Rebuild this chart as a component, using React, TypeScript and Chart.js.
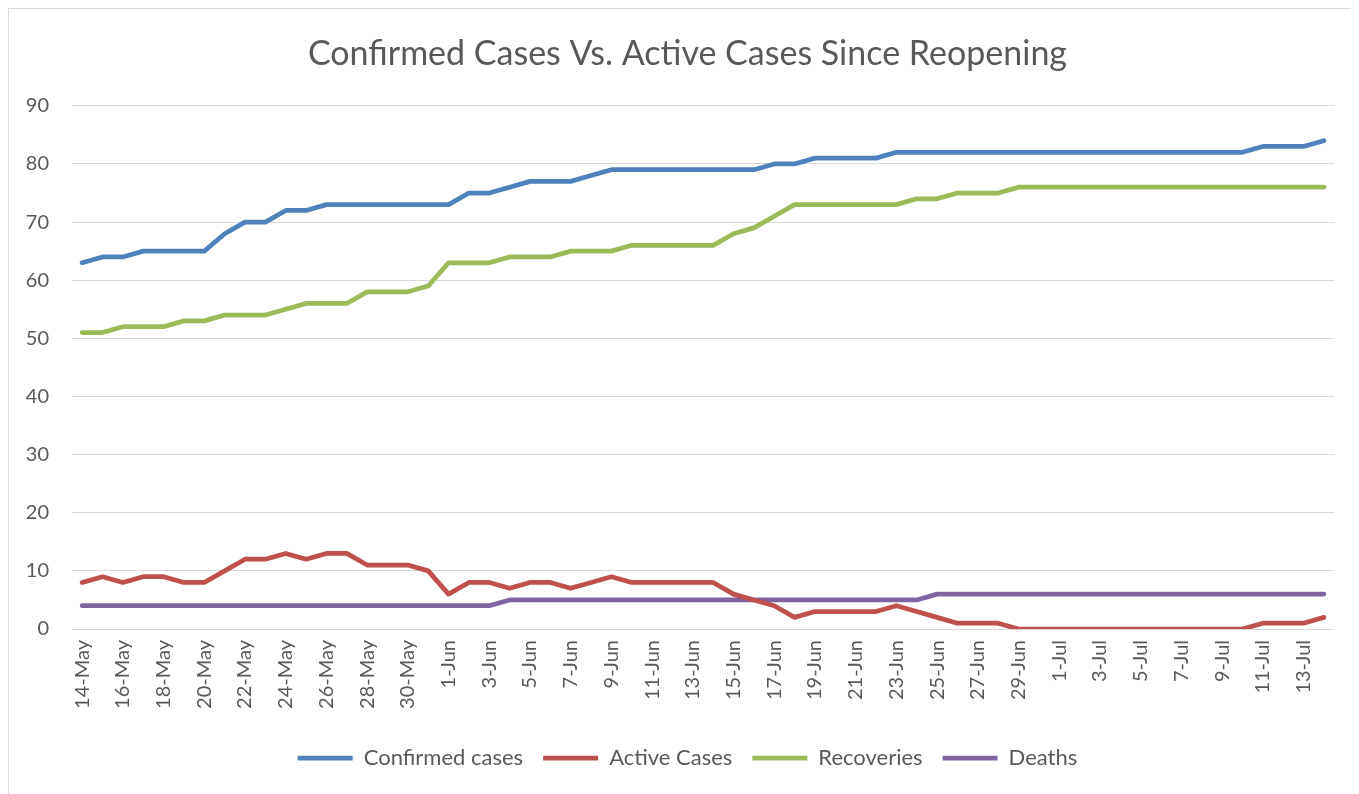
import React, { useEffect, useRef } from "react";
import { Chart, registerables } from "chart.js";

Chart.register(...registerables);

const dateLabels: string[] = [
  "14-May", "15-May", "16-May", "17-May", "18-May", "19-May", "20-May", "21-May", "22-May", "23-May",
  "24-May", "25-May", "26-May", "27-May", "28-May", "29-May", "30-May", "31-May",
  "1-Jun", "2-Jun", "3-Jun", "4-Jun", "5-Jun", "6-Jun", "7-Jun", "8-Jun", "9-Jun", "10-Jun",
  "11-Jun", "12-Jun", "13-Jun", "14-Jun", "15-Jun", "16-Jun", "17-Jun", "18-Jun", "19-Jun", "20-Jun",
  "21-Jun", "22-Jun", "23-Jun", "24-Jun", "25-Jun", "26-Jun", "27-Jun", "28-Jun", "29-Jun", "30-Jun",
  "1-Jul", "2-Jul", "3-Jul", "4-Jul", "5-Jul", "6-Jul", "7-Jul", "8-Jul", "9-Jul", "10-Jul",
  "11-Jul", "12-Jul", "13-Jul", "14-Jul",
];

const confirmedCases: number[] = [
  63, 64, 64, 65, 65, 65, 65, 68, 70, 70, 72, 72, 73, 73, 73, 73, 73, 73,
  73, 75, 75, 76, 77, 77, 77, 78, 79, 79, 79, 79, 79, 79, 79, 79, 80, 80, 81, 81, 81, 81,
  82, 82, 82, 82, 82, 82, 82, 82,
  82, 82, 82, 82, 82, 82, 82, 82, 82, 82, 83, 83, 83, 84,
];

const activeCases: number[] = [
  8, 9, 8, 9, 9, 8, 8, 10, 12, 12, 13, 12, 13, 13, 11, 11, 11, 10,
  6, 8, 8, 7, 8, 8, 7, 8, 9, 8, 8, 8, 8, 8, 6, 5, 4, 2, 3, 3, 3, 3,
  4, 3, 2, 1, 1, 1, 0, 0,
  0, 0, 0, 0, 0, 0, 0, 0, 0, 0, 1, 1, 1, 2,
];

const recoveries: number[] = [
  51, 51, 52, 52, 52, 53, 53, 54, 54, 54, 55, 56, 56, 56, 58, 58, 58, 59,
  63, 63, 63, 64, 64, 64, 65, 65, 65, 66, 66, 66, 66, 66, 68, 69, 71, 73, 73, 73, 73, 73,
  73, 74, 74, 75, 75, 75, 76, 76,
  76, 76, 76, 76, 76, 76, 76, 76, 76, 76, 76, 76, 76, 76,
];

const deaths: number[] = [
  4, 4, 4, 4, 4, 4, 4, 4, 4, 4, 4, 4, 4, 4, 4, 4, 4, 4,
  4, 4, 4, 5, 5, 5, 5, 5, 5, 5, 5, 5, 5, 5, 5, 5, 5, 5, 5, 5, 5, 5,
  5, 5, 6, 6, 6, 6, 6, 6,
  6, 6, 6, 6, 6, 6, 6, 6, 6, 6, 6, 6, 6, 6,
];

const seriesNames: string[] = ["Confirmed cases", "Active Cases", "Recoveries", "Deaths"];
const seriesColors: string[] = ["#4F81BD", "#C0504D", "#9BBB59", "#8064A2"];
const titleText = "Confirmed Cases Vs. Active Cases Since Reopening";

const FONT = "Lato, 'Open Sans', sans-serif";
const TEXT_COLOR = "#595959";

// Centre title and legend on the whole chart frame rather than the padded box.
const centerShiftPlugin = {
  id: "centerShift",
  afterLayout(chart: any) {
    const dx = 14.5;
    const t = chart.titleBlock;
    if (t) {
      t.left += dx;
      t.right += dx;
    }
    const l = chart.legend;
    if (l) {
      l.left += dx;
      l.right += dx;
    }
  },
};

export default function App() {
  const canvasRef = useRef<HTMLCanvasElement | null>(null);

  useEffect(() => {
    document.body.style.margin = "8px";
    const canvas = canvasRef.current;
    if (!canvas) return;
    const seriesData = [confirmedCases, activeCases, recoveries, deaths];
    const chart = new Chart(canvas, {
      type: "line",
      data: {
        labels: dateLabels,
        datasets: seriesNames.map((name, i) => ({
          label: name,
          data: seriesData[i],
          borderColor: seriesColors[i],
          backgroundColor: seriesColors[i],
          borderWidth: 4.75,
          borderCapStyle: "round" as const,
          borderJoinStyle: "round" as const,
          pointRadius: 0,
          pointHoverRadius: 0,
          pointStyle: "line" as const,
          tension: 0,
          fill: false,
        })),
      },
      plugins: [centerShiftPlugin],
      options: {
        animation: false,
        responsive: false,
        maintainAspectRatio: false,
        layout: { padding: { left: 0, right: 22, top: 0, bottom: 20 } },
        plugins: {
          title: {
            display: true,
            text: titleText,
            color: TEXT_COLOR,
            font: { family: FONT, size: 34, weight: "normal" as const },
            padding: { top: 25, bottom: 31 },
          },
          legend: {
            position: "bottom",
            labels: {
              usePointStyle: true,
              pointStyle: "line",
              pointStyleWidth: 55,
              color: TEXT_COLOR,
              font: { family: FONT, size: 22 },
              padding: 20,
            },
          },
          tooltip: { enabled: false },
        },
        scales: {
          x: {
            offset: true,
            grid: { display: false, drawTicks: false },
            border: { display: false },
            afterFit: (scale: any) => {
              scale.height = 98;
            },
            ticks: {
              autoSkip: false,
              maxRotation: 90,
              minRotation: 90,
              padding: 11,
              color: TEXT_COLOR,
              font: { family: FONT, size: 20 },
              callback: function (this: any, _v: any, index: number) {
                return index % 2 === 0 ? dateLabels[index] : "";
              },
            },
          },
          y: {
            min: 0,
            max: 90,
            grid: { color: "#d9d9d9", lineWidth: 1, drawTicks: false },
            border: { display: false },
            afterFit: (scale: any) => {
              scale.width = 63;
            },
            ticks: {
              stepSize: 10,
              padding: 23,
              color: TEXT_COLOR,
              font: { family: FONT, size: 20 },
            },
          },
        },
      },
    });
    return () => chart.destroy();
  }, []);

  return (
    <div
      style={{
        width: 1400,
        height: 820,
        border: "1px solid #d9d9d9",
        boxSizing: "border-box",
        background: "#ffffff",
      }}
    >
      <canvas
        ref={canvasRef}
        width={1350}
        height={790}
        style={{ display: "block", width: 1350, height: 790 }}
      />
    </div>
  );
}
